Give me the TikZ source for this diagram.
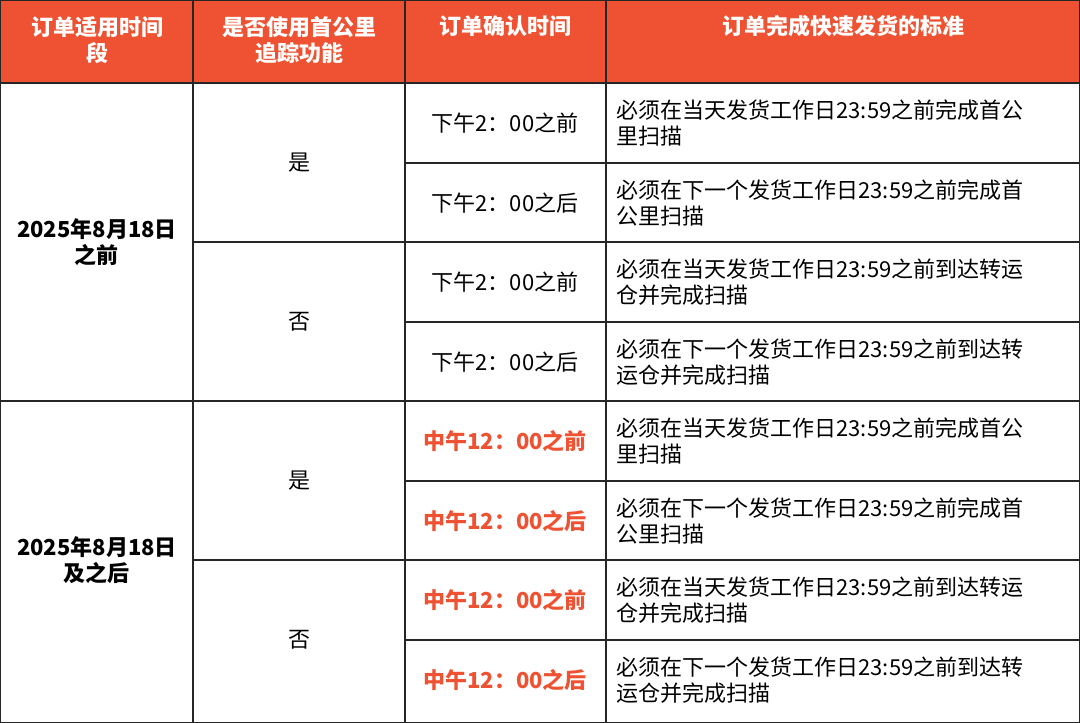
\documentclass[tikz,border=0pt]{standalone}
\usepackage{fontspec}
\setmainfont{Noto Sans CJK SC}
\definecolor{hdr}{HTML}{EE5232}
\begin{document}
\begin{tikzpicture}[x=1pt,y=-1pt,
  cell/.style={font=\fontsize{22}{26}\selectfont, align=center},
  hcell/.style={cell, text=white, font=\fontsize{22}{26}\selectfont\bfseries},
  lcell/.style={font=\fontsize{22}{26}\selectfont, align=left, anchor=west},
  redt/.style={cell, text=hdr, font=\fontsize{22}{26}\selectfont\bfseries}]
\useasboundingbox (0,0) rectangle (1080,723);
\fill[hdr] (0,0) rectangle (1080,83);
% grid
\draw[line width=1.2pt, black!85] (0.6,0.6) rectangle (1079.4,722.4);
\foreach \x in {193,405,606} \draw[line width=1.2pt, black!85] (\x,0) -- (\x,723);
\draw[line width=1.2pt, black!85] (0,83) -- (1080,83);
\draw[line width=1.2pt, black!85] (0,401) -- (1080,401);
\foreach \y in {242,560} \draw[line width=1.2pt, black!85] (193,\y) -- (1080,\y);
\foreach \y in {163,322,481,640} \draw[line width=1.2pt, black!85] (405,\y) -- (1080,\y);
% header
\node[hcell] (h1) at (97,40) {订单适用时间\\段};
\node[hcell] (h2) at (299,40) {是否使用首公里\\追踪功能};
\node[hcell] (h3) at (505,26) {订单确认时间};
\node[hcell] (h4) at (843,26) {订单完成快速发货的标准};
% period
\node[cell, font=\fontsize{22}{26}\selectfont\bfseries] (p1) at (97,242) {2025年8月18日\\之前};
\node[cell, font=\fontsize{22}{26}\selectfont\bfseries] (p2) at (97,560) {2025年8月18日\\及之后};
% tracking
\node[cell] (t1) at (299,163) {是};
\node[cell] (t2) at (299,322) {否};
\node[cell] (t3) at (299,481) {是};
\node[cell] (t4) at (299,640) {否};
% confirm time
\node[cell] (c1) at (505,123) {下午2：00之前};
\node[cell] (c2) at (505,203) {下午2：00之后};
\node[cell] (c3) at (505,282) {下午2：00之前};
\node[cell] (c4) at (505,362) {下午2：00之后};
\node[redt] (c5) at (505,441) {中午12：00之前};
\node[redt] (c6) at (505,521) {中午12：00之后};
\node[redt] (c7) at (505,600) {中午12：00之前};
\node[redt] (c8) at (505,680) {中午12：00之后};
% standard
\node[lcell] (s1) at (613,123) {必须在当天发货工作日23:59之前完成首公\\里扫描};
\node[lcell] (s2) at (613,203) {必须在下一个发货工作日23:59之前完成首\\公里扫描};
\node[lcell] (s3) at (613,282) {必须在当天发货工作日23:59之前到达转运\\仓并完成扫描};
\node[lcell] (s4) at (613,362) {必须在下一个发货工作日23:59之前到达转\\运仓并完成扫描};
\node[lcell] (s5) at (613,441) {必须在当天发货工作日23:59之前完成首公\\里扫描};
\node[lcell] (s6) at (613,521) {必须在下一个发货工作日23:59之前完成首\\公里扫描};
\node[lcell] (s7) at (613,600) {必须在当天发货工作日23:59之前到达转运\\仓并完成扫描};
\node[lcell] (s8) at (613,680) {必须在下一个发货工作日23:59之前到达转\\运仓并完成扫描};
\end{tikzpicture}
\end{document}
